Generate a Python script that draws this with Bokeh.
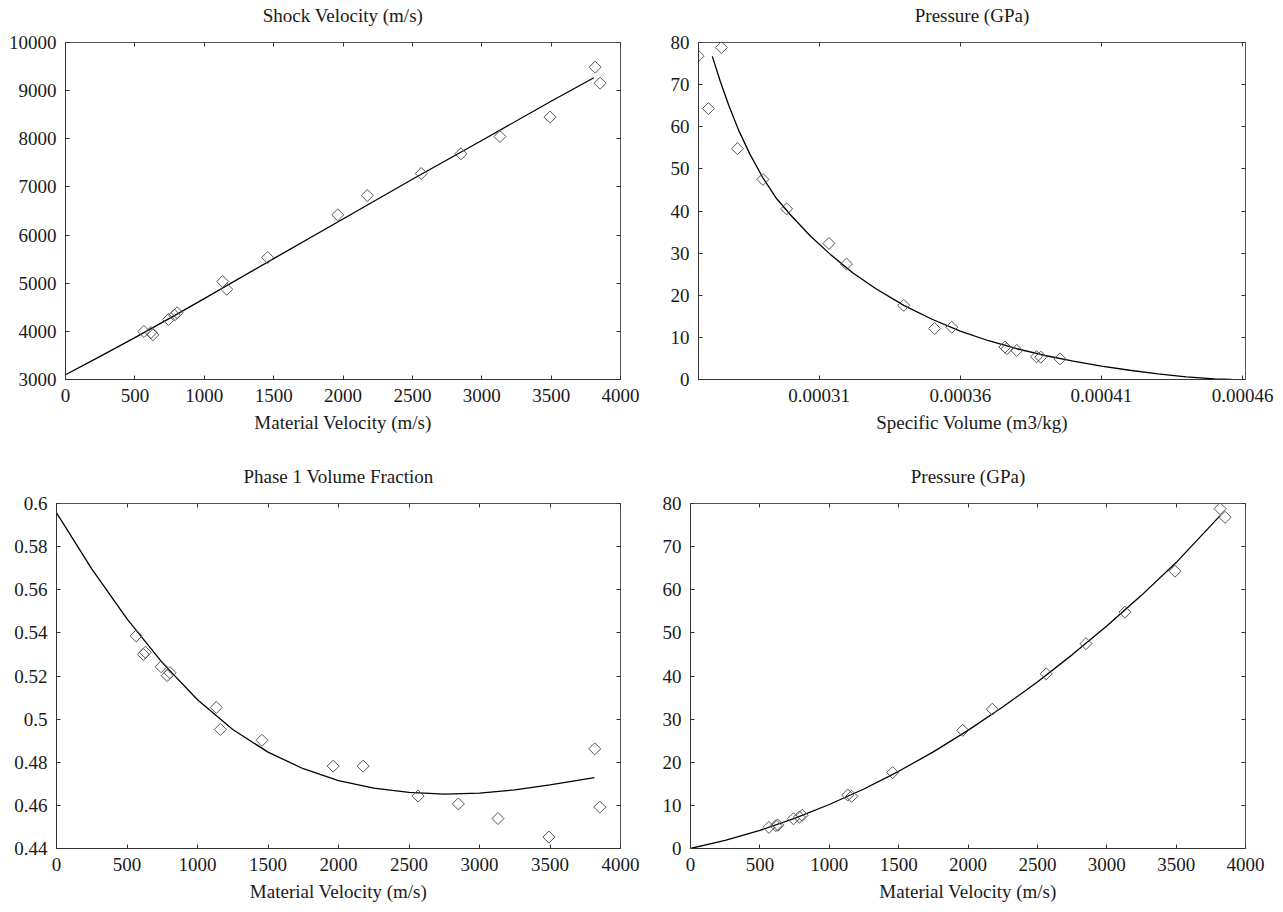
import math
from bokeh.plotting import figure
from bokeh.layouts import column, row
from bokeh.models import Range1d, FixedTicker, LinearAxis
from bokeh.embed import file_html
from bokeh.resources import INLINE

# ---------------- data ----------------
material_velocity = [565, 616, 630, 742, 785, 805, 1133, 1162, 1457, 1962, 2175,
                     2564, 2850, 3131, 3492, 3817, 3853]
shock_velocity = [3997, 3976, 3928, 4246, 4336, 4385, 5036, 4876, 5534, 6420, 6822,
                  7279, 7688, 8047, 8449, 9487, 9155]
pressure_gpa = [4.9, 5.3, 5.4, 6.9, 7.3, 7.7, 12.4, 12.1, 17.6, 27.4, 32.3,
                40.5, 47.5, 54.8, 64.3, 78.8, 76.8]
specific_volume = [0.0003953, 0.0003885, 0.0003870, 0.0003800, 0.0003765, 0.0003758,
                   0.0003570, 0.0003509, 0.0003400, 0.0003197, 0.0003135,
                   0.0002985, 0.0002901, 0.0002811, 0.0002708, 0.0002754, 0.0002672]
phase1_fraction = [0.5386, 0.5300, 0.5310, 0.5243, 0.5202, 0.5215, 0.5054, 0.4952,
                   0.4902, 0.4782, 0.4782, 0.4643, 0.4607, 0.4539, 0.4453, 0.4862, 0.4592]

# fitted model curves
fit_us_u = [0, 250, 500, 750, 1000, 1500, 2000, 2500, 3000, 3500, 3808]
fit_us = [3098, 3480, 3870, 4270, 4680, 5510, 6335, 7160, 7965, 8780, 9267]

fit_pv_v = [0.0002722, 0.0002750, 0.0002780, 0.0002815, 0.0002855, 0.0002900,
            0.0002950, 0.0003000, 0.0003070, 0.0003140, 0.0003220, 0.0003300,
            0.0003400, 0.0003500, 0.0003600, 0.0003700, 0.0003800, 0.0003900,
            0.0004000, 0.0004100, 0.0004200, 0.0004300, 0.0004400, 0.0004500,
            0.0004560]
fit_pv_p = [76.7, 70.8, 65.1, 59.2, 53.5, 48.0, 42.9, 39.0, 34.0, 29.7, 25.3, 21.6,
            17.6, 14.3, 11.5, 9.2, 7.3, 5.7, 4.35, 3.2, 2.2, 1.32, 0.62, 0.17, 0.0]

fit_phi_u = [0, 250, 500, 750, 1000, 1250, 1500, 1750, 2000, 2250, 2500, 2750,
             3000, 3250, 3500, 3815]
fit_phi = [0.5957, 0.5697, 0.5465, 0.5262, 0.5090, 0.4952, 0.4847, 0.4770, 0.4715,
           0.4680, 0.4660, 0.4652, 0.4657, 0.4672, 0.4695, 0.4729]

fit_pu_u = [0, 250, 500, 750, 1000, 1250, 1500, 1750, 2000, 2250, 2500, 2750,
            3000, 3250, 3500, 3817]
fit_pu_p = [0.0, 1.9, 4.2, 7.0, 10.2, 13.8, 17.9, 22.4, 27.4, 32.8, 38.6, 44.9,
            51.6, 58.7, 66.3, 77.2]

# axis ticks and labels
vel_ticks = [0, 500, 1000, 1500, 2000, 2500, 3000, 3500, 4000]
us_ticks = [3000, 4000, 5000, 6000, 7000, 8000, 9000, 10000]
p_ticks = [0, 10, 20, 30, 40, 50, 60, 70, 80]
vol_ticks = [0.00031, 0.00036, 0.00041, 0.00046]
vol_tick_labels = ["0.00031", "0.00036", "0.00041", "0.00046"]
phi_ticks = [0.44, 0.46, 0.48, 0.5, 0.52, 0.54, 0.56, 0.58, 0.6]
phi_tick_labels = ["0.44", "0.46", "0.48", "0.5", "0.52", "0.54", "0.56", "0.58", "0.6"]

titles = ["Shock Velocity (m/s)", "Pressure (GPa)", "Phase 1 Volume Fraction", "Pressure (GPa)"]
xlabels = ["Material Velocity (m/s)", "Specific Volume (m3/kg)",
           "Material Velocity (m/s)", "Material Velocity (m/s)"]

FONT = "Liberation Serif"
FS = "19px"
TXT = "#1a1a1a"
AX = "#333333"


def make_fig(width, height, xr, yr, xticks, yticks, title, xlabel, mb,
             xover=None, yover=None):
    p = figure(width=width, height=height, x_range=xr, y_range=yr,
               output_backend="svg", toolbar_location=None, tools="",
               min_border_left=mb[0], min_border_right=mb[1],
               min_border_top=mb[2], min_border_bottom=mb[3])
    p.grid.visible = False
    p.outline_line_color = "#555555"
    p.background_fill_color = "white"
    p.border_fill_color = "white"

    xa = p.xaxis[0]
    ya = p.yaxis[0]
    xa.ticker = FixedTicker(ticks=xticks)
    ya.ticker = FixedTicker(ticks=yticks)
    if xover:
        xa.major_label_overrides = xover
    if yover:
        ya.major_label_overrides = yover
    xa.axis_label = xlabel
    xa.axis_label_text_font = FONT
    xa.axis_label_text_font_size = FS
    xa.axis_label_text_font_style = "normal"
    xa.axis_label_text_color = TXT
    xa.axis_label_standoff = 7
    for a in (xa, ya):
        a.major_label_text_font = FONT
        a.major_label_text_font_size = FS
        a.major_label_text_color = TXT
        a.major_label_standoff = 9
        a.major_tick_in = 4
        a.major_tick_out = 0
        a.minor_tick_in = 0
        a.minor_tick_out = 0
        a.axis_line_color = AX
        a.major_tick_line_color = AX

    # mirrored inward ticks on the top and right (no tick labels);
    # the top axis carries the panel title as its label
    for loc, ticks in (("right", yticks), ("above", xticks)):
        ax = LinearAxis(ticker=FixedTicker(ticks=ticks),
                        major_label_text_font_size="1px",
                        major_label_text_color=None,
                        major_label_standoff=0,
                        major_tick_in=4, major_tick_out=0,
                        minor_tick_in=0, minor_tick_out=0,
                        axis_line_color=None, major_tick_line_color=AX)
        if loc == "above":
            ax.axis_label = title
            ax.axis_label_text_font = FONT
            ax.axis_label_text_font_size = FS
            ax.axis_label_text_font_style = "normal"
            ax.axis_label_text_color = TXT
            ax.axis_label_standoff = 17
        p.add_layout(ax, loc)
    return p


def add_points(p, x, y):
    p.scatter(x, y, marker="square", angle=math.pi / 4, size=8.5,
              fill_color=None, line_color="#555555", line_width=1)


def add_curve(p, x, y):
    p.line(x, y, line_color="black", line_width=1.3)


# Shock velocity vs material velocity
f1 = make_fig(640, 455, Range1d(0, 4000), Range1d(3000, 10000), vel_ticks, us_ticks,
              titles[0], xlabels[0], (65, 20, 42, 76))
add_curve(f1, fit_us_u, fit_us)
add_points(f1, material_velocity, shock_velocity)

# Pressure vs specific volume
f2 = make_fig(635, 455, Range1d(0.0002673, 0.000461), Range1d(0, 80), vol_ticks, p_ticks,
              titles[1], xlabels[1], (58, 30, 42, 76),
              xover=dict(zip(vol_ticks, vol_tick_labels)))
add_curve(f2, fit_pv_v, fit_pv_p)
add_points(f2, specific_volume, pressure_gpa)

# Phase 1 volume fraction vs material velocity
f3 = make_fig(640, 453, Range1d(0, 4000), Range1d(0.44, 0.6), vel_ticks, phi_ticks,
              titles[2], xlabels[2], (56, 20, 48, 60),
              yover=dict(zip(phi_ticks, phi_tick_labels)))
add_curve(f3, fit_phi_u, fit_phi)
add_points(f3, material_velocity, phase1_fraction)

# Pressure vs material velocity
f4 = make_fig(635, 453, Range1d(0, 4000), Range1d(0, 80), vel_ticks, p_ticks,
              titles[3], xlabels[3], (50, 30, 48, 60))
add_curve(f4, fit_pu_u, fit_pu_p)
add_points(f4, material_velocity, pressure_gpa)

layout = column(row(f1, f2), row(f3, f4))
open("out.html", "w").write(file_html(layout, INLINE))
